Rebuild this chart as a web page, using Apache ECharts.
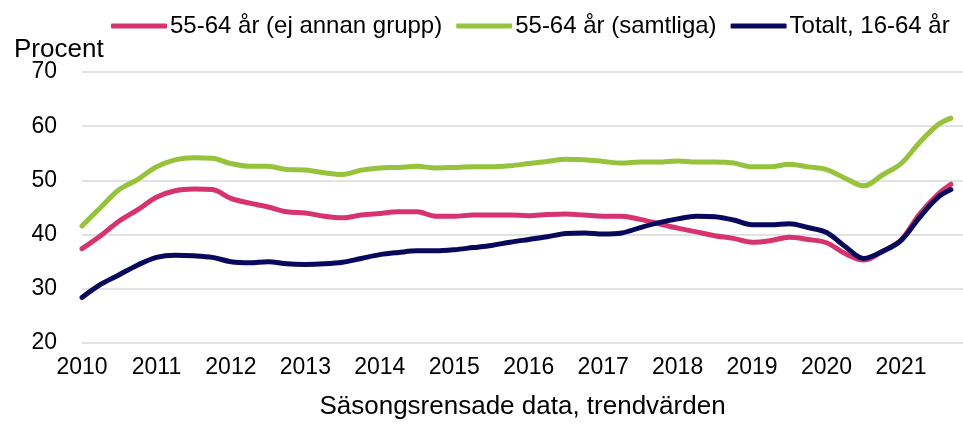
<!DOCTYPE html>
<html>
<head>
<meta charset="utf-8">
<script src="https://cdn.jsdelivr.net/npm/echarts@6/dist/echarts.min.js"></script>
<style>
  html, body { margin: 0; padding: 0; background: #fff; }
  #chart { width: 963px; height: 425px; }
</style>
</head>
<body>
<div id="chart"></div>
<script>
// Decimal-year positions of the sampled points (quarterly, last point Sep 2021)
const periods = [
  2010, 2010.25, 2010.5, 2010.75,
  2011, 2011.25, 2011.5, 2011.75,
  2012, 2012.25, 2012.5, 2012.75,
  2013, 2013.25, 2013.5, 2013.75,
  2014, 2014.25, 2014.5, 2014.75,
  2015, 2015.25, 2015.5, 2015.75,
  2016, 2016.25, 2016.5, 2016.75,
  2017, 2017.25, 2017.5, 2017.75,
  2018, 2018.25, 2018.5, 2018.75,
  2019, 2019.25, 2019.5, 2019.75,
  2020, 2020.25, 2020.5, 2020.75,
  2021, 2021.25, 2021.5, 2021.67
];
const yearTicks = [2010, 2011, 2012, 2013, 2014, 2015, 2016, 2017, 2018, 2019, 2020, 2021];

const seriesNames = ['55-64 år (ej annan grupp)', '55-64 år (samtliga)', 'Totalt, 16-64 år'];

const ejAnnanGrupp = [
  37.4, 39.8, 42.5, 44.6,
  46.9, 48.1, 48.4, 48.3,
  46.7, 45.8, 45.1, 44.2,
  44.0, 43.4, 43.1, 43.6,
  43.9, 44.2, 44.2, 43.4,
  43.4, 43.6, 43.6, 43.6,
  43.5, 43.7, 43.8, 43.6,
  43.4, 43.4, 42.8, 42.0,
  41.2, 40.5, 39.8, 39.3,
  38.6, 38.9, 39.5, 39.1,
  38.5, 36.5, 35.3, 36.9,
  39.0, 43.8, 47.5, 49.3
];
const samtliga = [
  41.6, 45.0, 48.3, 50.2,
  52.5, 53.8, 54.2, 54.1,
  53.1, 52.6, 52.6, 52.0,
  51.9, 51.4, 51.1, 51.9,
  52.3, 52.4, 52.6, 52.3,
  52.4, 52.5, 52.5, 52.7,
  53.1, 53.5, 53.9, 53.8,
  53.5, 53.2, 53.4, 53.4,
  53.6, 53.4, 53.4, 53.2,
  52.5, 52.5, 53.0, 52.5,
  52.0, 50.4, 49.0, 51.0,
  53.1, 57.0, 60.3, 61.5
];
const totalt = [
  28.4, 30.8, 32.6, 34.4,
  35.8, 36.2, 36.1, 35.8,
  35.0, 34.8, 35.0, 34.6,
  34.5, 34.6, 34.9, 35.6,
  36.3, 36.7, 37.0, 37.0,
  37.2, 37.6, 38.0, 38.6,
  39.1, 39.6, 40.2, 40.3,
  40.1, 40.3, 41.3, 42.2,
  42.9, 43.4, 43.3, 42.7,
  41.8, 41.8, 42.0, 41.3,
  40.4, 37.8, 35.6, 36.9,
  38.9, 43.2, 46.9, 48.3
];

const colors = ['#D6336F', '#96C23C', '#08095C'];
const font = 'Arial, "Liberation Sans", sans-serif';

function pairs(vals) { return periods.map((p, i) => [p, vals[i]]); }

const chart = echarts.init(document.getElementById('chart'), null, { renderer: 'canvas' });
chart.setOption({
  animation: false,
  backgroundColor: '#fff',
  color: colors,
  title: {
    text: 'Procent',
    left: 9,
    top: 32,
    textStyle: { fontFamily: font, fontSize: 26, fontWeight: 'normal', color: '#000' }
  },
  legend: {
    top: 9,
    left: 106,
    itemWidth: 56,
    itemHeight: 5,
    itemGap: 14,
    icon: 'roundRect',
    textStyle: { fontFamily: font, fontSize: 24, color: '#000', padding: [0, 0, 0, -2] },
    data: seriesNames
  },
  grid: { left: 82, right: 0, top: 72, bottom: 77, containLabel: false },
  xAxis: {
    type: 'value',
    min: 2010,
    max: 2021.833,
    name: 'Säsongsrensade data, trendvärden',
    nameLocation: 'middle',
    nameGap: 51,
    nameTextStyle: { fontFamily: font, fontSize: 26, color: '#000' },
    axisLine: { show: false },
    axisTick: { show: false },
    splitLine: { show: false },
    axisLabel: {
      customValues: yearTicks,
      formatter: v => String(v),
      fontFamily: font, fontSize: 23, color: '#000', margin: 13
    }
  },
  yAxis: {
    type: 'value',
    min: 20,
    max: 70,
    interval: 10,
    axisLine: { show: false },
    axisTick: { show: false },
    splitLine: { lineStyle: { color: '#D9D9D9', width: 1.5 } },
    axisLabel: { fontFamily: font, fontSize: 23, color: '#000', margin: 25 }
  },
  series: [
    { name: seriesNames[0], type: 'line', data: pairs(ejAnnanGrupp), smooth: 0.35, showSymbol: false,
      lineStyle: { width: 5, color: colors[0], cap: 'round' }, itemStyle: { color: colors[0] }, z: 2 },
    { name: seriesNames[1], type: 'line', data: pairs(samtliga), smooth: 0.35, showSymbol: false,
      lineStyle: { width: 5, color: colors[1], cap: 'round' }, itemStyle: { color: colors[1] }, z: 3 },
    { name: seriesNames[2], type: 'line', data: pairs(totalt), smooth: 0.35, showSymbol: false,
      lineStyle: { width: 5, color: colors[2], cap: 'round' }, itemStyle: { color: colors[2] }, z: 4 }
  ]
});
</script>
</body>
</html>
